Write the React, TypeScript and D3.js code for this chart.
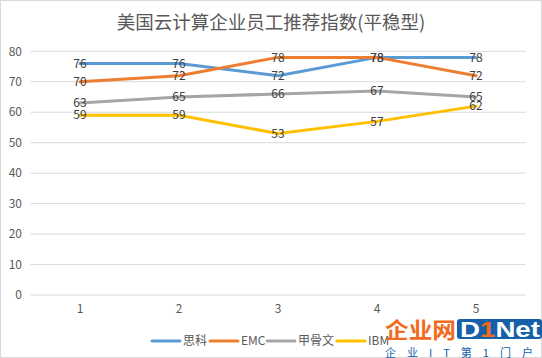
import React from "react";
import * as d3 from "d3";

const categories = ["1", "2", "3", "4", "5"];
const seriesNames = ["思科", "EMC", "甲骨文", "IBM"];
const cisco = [76, 76, 72, 78, 78];
const emc = [70, 72, 78, 78, 72];
const oracle = [63, 65, 66, 67, 65];
const ibm = [59, 59, 53, 57, 62];
const colors = ["#5B9BD5", "#ED7D31", "#A5A5A5", "#FFC000"];
const yTicks = [0, 10, 20, 30, 40, 50, 60, 70, 80];
const title = "美国云计算企业员工推荐指数(平稳型)";

const W = 542;
const H = 358;

export default function App() {
  const series = [cisco, emc, oracle, ibm];
  const x = d3.scaleBand<string>().domain(categories).range([30.5, 525.5]);
  const y = d3.scaleLinear().domain([0, 80]).range([295, 51.3]);
  const line = d3
    .line<number>()
    .x((_, i) => (x(categories[i]) as number) + x.bandwidth() / 2)
    .y((d) => y(d));
  const font = "'Noto Sans CJK SC', 'Noto Sans', sans-serif";
  const legendX = [152, 210, 267, 337];
  return (
    <svg
      width={W}
      height={H}
      style={{ position: "absolute", left: 0, top: 0, background: "#fff" }}
      fontFamily={font}
    >
      <rect x={0.5} y={0.5} width={W - 1} height={H - 1} fill="#fff" stroke="#d9d9d9" />
      <text x={271} y={29} textAnchor="middle" fontSize={18.5} fill="#595959">
        {title}
      </text>
      {yTicks.map((t) => (
        <g key={t}>
          <line x1={30.5} x2={525.5} y1={y(t)} y2={y(t)} stroke="#d9d9d9" strokeWidth={1} />
          <text x={22} y={y(t)} dy="0.35em" textAnchor="end" fontSize={12} fill="#595959">
            {t}
          </text>
        </g>
      ))}
      {categories.map((c) => (
        <text
          key={c}
          x={(x(c) as number) + x.bandwidth() / 2}
          y={313}
          textAnchor="middle"
          fontSize={12}
          fill="#595959"
        >
          {c}
        </text>
      ))}
      {series.map((s, k) => (
        <path key={k} d={line(s) as string} fill="none" stroke={colors[k]} strokeWidth={3} strokeLinejoin="round" strokeLinecap="round" />
      ))}
      {series.map((s, k) =>
        s.map((v, i) => (
          <text
            key={k + "-" + i}
            x={(x(categories[i]) as number) + x.bandwidth() / 2}
            y={y(v)}
            dy="0.35em"
            textAnchor="middle"
            fontSize={12}
            fill="#404040"
          >
            {v}
          </text>
        ))
      )}
      {seriesNames.map((n, k) => (
        <g key={n}>
          <line x1={legendX[k]} x2={legendX[k] + 28} y1={341} y2={341} stroke={colors[k]} strokeWidth={3} strokeLinecap="round" />
          <text x={legendX[k] + 31} y={341} dy="0.35em" fontSize={12} fill="#595959">
            {n}
          </text>
        </g>
      ))}
      <g>
        <text x={385} y={338} fontSize={22} fontWeight="bold" fill="#F26B1D" fontFamily={font} textLength={71} lengthAdjust="spacingAndGlyphs">
          企业网
        </text>
        <rect x={457} y={319} width={85} height={20} rx={3} fill="#1560A8" />
        <text x={460} y={337} fontSize={22} fontWeight="bold" fill="#fff" fontFamily="'Liberation Sans', Arial, sans-serif" textLength={80} lengthAdjust="spacingAndGlyphs">
          D<tspan fill="#F26B1D">1</tspan>Net
        </text>
        <text x={385} y={357} fontSize={11} fill="#1560A8" letterSpacing={11}>
          企业IT第1门户
        </text>
      </g>
    </svg>
  );
}
